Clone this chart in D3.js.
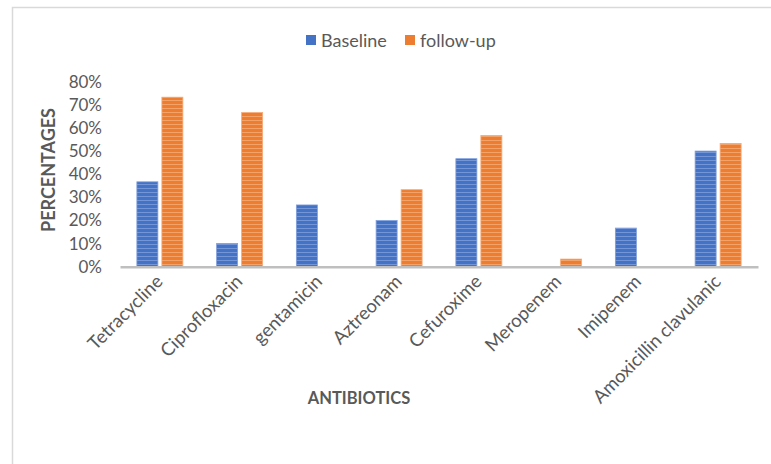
<!DOCTYPE html>
<html>
<head>
<meta charset="utf-8">
<script src="https://cdn.jsdelivr.net/npm/d3@7"></script>
<style>
  html, body { margin: 0; padding: 0; background: #fff; }
  svg { display: block; font-family: Lato, "Open Sans", sans-serif; }
</style>
</head>
<body>
<svg id="chart" width="771" height="464"></svg>
<script>
const categories = ["Tetracycline", "Ciprofloxacin", "gentamicin", "Aztreonam", "Cefuroxime", "Meropenem", "Imipenem", "Amoxicillin clavulanic"];
const seriesNames = ["Baseline", "follow-up"];
const baselineValues = [0.367, 0.10, 0.267, 0.20, 0.467, 0, 0.167, 0.50];
const followupValues = [0.733, 0.667, 0, 0.333, 0.567, 0.033, 0, 0.533];
const yTicks = [0, 0.1, 0.2, 0.3, 0.4, 0.5, 0.6, 0.7, 0.8];
const seriesColors = ["#4472C4", "#ED7D31"];
const stripeColors = ["#7f9edb", "#f5ab78"];

const svg = d3.select("#chart");

// chart border
svg.append("rect")
  .attr("x", 12.5).attr("y", 7.5)
  .attr("width", 800).attr("height", 500)
  .attr("fill", "none").attr("stroke", "#d9d9d9").attr("stroke-width", 1.5);

// stripe patterns
const defs = svg.append("defs");
seriesColors.forEach((c, i) => {
  const p = defs.append("pattern")
    .attr("id", "stripe" + i)
    .attr("patternUnits", "userSpaceOnUse")
    .attr("width", 6).attr("height", 4);
  p.append("rect").attr("width", 6).attr("height", 4).attr("fill", c);
  p.append("rect").attr("y", 0).attr("width", 6).attr("height", 1).attr("fill", stripeColors[i]).attr("opacity", 0.8);
});

const x0 = d3.scaleBand().domain(categories).range([120, 758]);
const x1 = d3.scaleBand().domain(seriesNames).range([0, x0.bandwidth()])
  .paddingInner(0.16).paddingOuter(0.675);
const y = d3.scaleLinear().domain([0, 0.8]).range([266.7, 81.7]);

// y axis labels
const yAxis = d3.axisLeft(y).tickValues(yTicks).tickFormat(d3.format(".0%")).tickSize(0).tickPadding(0);
const gy = svg.append("g").attr("transform", "translate(102,0)").call(yAxis);
gy.select(".domain").remove();
gy.selectAll("text").attr("fill", "#595959").style("font-size", "17px").style("font-family", "Lato, sans-serif");

// bars
const data = categories.map((c, i) => ({ cat: c, vals: [baselineValues[i], followupValues[i]] }));
const groups = svg.append("g").selectAll("g").data(data).join("g")
  .attr("transform", d => `translate(${x0(d.cat)},0)`);
groups.selectAll("rect").data(d => d.vals.map((v, i) => ({ v, i })).filter(e => e.v > 0)).join("rect")
  .attr("x", e => x1(seriesNames[e.i]))
  .attr("y", e => y(e.v))
  .attr("width", x1.bandwidth())
  .attr("height", e => y(0) - y(e.v))
  .attr("fill", e => `url(#stripe${e.i})`)
  .attr("stroke", e => stripeColors[e.i])
  .attr("stroke-width", 0.8);

// x axis
const xAxis = d3.axisBottom(x0).tickSize(0).tickPadding(0);
const gx = svg.append("g").attr("transform", `translate(0,${y(0)})`).call(xAxis);
gx.select(".domain").attr("stroke", "#bfbfbf").attr("stroke-width", 2.5);
gx.selectAll("text")
  .attr("fill", "#595959")
  .style("font-size", "18.5px")
  .style("font-family", "Lato, sans-serif")
  .attr("text-anchor", "end")
  .attr("dy", "0")
  .attr("transform", "translate(4,16) rotate(-45)");

// axis titles
svg.append("text")
  .attr("transform", "translate(55,170) rotate(-90)")
  .attr("text-anchor", "middle")
  .attr("fill", "#595959").style("font-size", "18px").style("font-weight", "bold")
  .text("PERCENTAGES");
svg.append("text")
  .attr("x", 359).attr("y", 404)
  .attr("text-anchor", "middle")
  .attr("fill", "#595959").style("font-size", "16.5px").style("font-weight", "bold")
  .text("ANTIBIOTICS");

// legend
const legendX = [306, 405];
seriesNames.forEach((s, i) => {
  svg.append("rect").attr("x", legendX[i]).attr("y", 35).attr("width", 10).attr("height", 10)
    .attr("fill", seriesColors[i]);
  svg.append("text").attr("x", legendX[i] + 15).attr("y", 46.5)
    .attr("fill", "#595959").style("font-size", "18px")
    .text(s);
});
</script>
</body>
</html>
